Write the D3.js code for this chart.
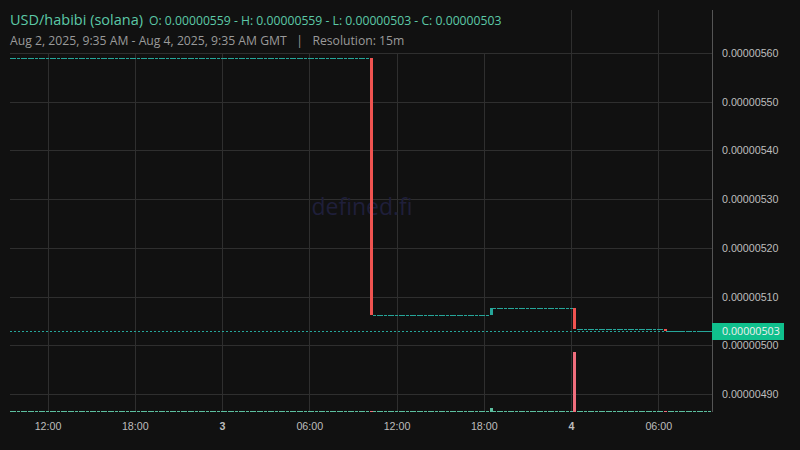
<!DOCTYPE html>
<html>
<head>
<meta charset="utf-8">
<script src="https://cdn.jsdelivr.net/npm/d3@7"></script>
<style>
  html, body { margin: 0; padding: 0; background: #111111; }
  svg { display: block; font-family: "Open Sans", "Noto Sans", sans-serif; }
</style>
</head>
<body>
<div id="chart"></div>
<script>
// price axis ticks and time ticks
var priceTicks = [0.0000049, 0.000005, 0.0000051, 0.0000052, 0.0000053, 0.0000054, 0.0000055, 0.0000056];
var timeTicks = ["2025-08-02T12:00Z", "2025-08-02T18:00Z", "2025-08-03T00:00Z", "2025-08-03T06:00Z",
                 "2025-08-03T12:00Z", "2025-08-03T18:00Z", "2025-08-04T00:00Z", "2025-08-04T06:00Z"];
var timeTickLabels = ["12:00", "18:00", "3", "06:00", "12:00", "18:00", "4", "06:00"];
var dayTicks = ["3", "4"];

// stretches of 15m bars with no price change: first bar, last bar, price, volume
var flatRuns = [
  ["2025-08-02T09:30Z", "2025-08-03T10:00Z", 0.00000559, 1],
  ["2025-08-03T10:30Z", "2025-08-03T18:15Z", 0.000005063, 1],
  ["2025-08-03T18:45Z", "2025-08-04T00:00Z", 0.000005076, 1],
  ["2025-08-04T00:30Z", "2025-08-04T06:15Z", 0.000005033, 1],
  ["2025-08-04T06:45Z", "2025-08-04T09:30Z", 0.00000503, 1]
];

// bars where the price moved
var tradeTimes = ["2025-08-03T10:15Z", "2025-08-03T18:30Z", "2025-08-04T00:15Z", "2025-08-04T06:30Z"];
var tradeOpen = [0.00000559, 0.000005063, 0.000005076, 0.000005033];
var tradeClose = [0.000005063, 0.000005076, 0.000005033, 0.00000503];
var tradeVolume = [1, 4, 60, 1];

var lastPrice = 0.00000503;

var W = 800, H = 450;
var plot = { left: 10, right: 712, top: 10, bottom: 412 };

var upColor = "#26a69a", downColor = "#ef5350";
var upVol = "#5cbf9f", downVol = "#f06e7d";

// build the bar list
var bars = [];
flatRuns.forEach(function (r) {
  var t0 = new Date(r[0]).getTime(), t1 = new Date(r[1]).getTime();
  for (var t = t0; t <= t1; t += 15 * 60 * 1000) {
    bars.push({ time: new Date(t), open: r[2], high: r[2], low: r[2], close: r[2], volume: r[3] });
  }
});
tradeTimes.forEach(function (t, i) {
  bars.push({
    time: new Date(t), open: tradeOpen[i], close: tradeClose[i],
    high: Math.max(tradeOpen[i], tradeClose[i]), low: Math.min(tradeOpen[i], tradeClose[i]),
    volume: tradeVolume[i]
  });
});
bars.sort(function (a, b) { return a.time - b.time; });

var svg = d3.select("#chart").append("svg")
  .attr("width", W).attr("height", H);

svg.append("rect").attr("width", W).attr("height", H).attr("fill", "#111111");

var x = d3.scaleUtc()
  .domain([new Date("2025-08-03T00:00Z"), new Date("2025-08-04T00:00Z")])
  .range([222, 571]);

var y = d3.scaleLinear()
  .domain([0.0000049, 0.0000056])
  .range([394, 53]);

var vol = d3.scaleLinear()
  .domain([0, d3.max(bars, function (d) { return d.volume; })])
  .range([plot.bottom, plot.bottom - 60]);

// grid
var grid = svg.append("g").attr("shape-rendering", "crispEdges");
grid.selectAll(".hgrid")
  .data(priceTicks)
  .enter().append("line")
  .attr("x1", plot.left).attr("x2", plot.right)
  .attr("y1", function (d) { return Math.round(y(d)) + 0.5; })
  .attr("y2", function (d) { return Math.round(y(d)) + 0.5; })
  .attr("stroke", "#2f2f2f");
grid.selectAll(".vgrid")
  .data(timeTicks)
  .enter().append("line")
  .attr("x1", function (d) { return Math.round(x(new Date(d))) + 0.5; })
  .attr("x2", function (d) { return Math.round(x(new Date(d))) + 0.5; })
  .attr("y1", plot.top).attr("y2", plot.bottom)
  .attr("stroke", "#2f2f2f");

// watermark
svg.append("text")
  .attr("x", 362).attr("y", 215)
  .attr("text-anchor", "middle")
  .attr("font-size", 23)
  .attr("fill", "#1f1f3a")
  .text("defined.fi");

svg.append("clipPath").attr("id", "clip")
  .append("rect")
  .attr("x", plot.left).attr("y", plot.top)
  .attr("width", plot.right - plot.left).attr("height", plot.bottom - plot.top);

var marks = svg.append("g").attr("clip-path", "url(#clip)").attr("shape-rendering", "crispEdges");

// volume bars
marks.append("g").selectAll("rect")
  .data(bars)
  .enter().append("rect")
  .attr("x", function (d) { return Math.round(x(d.time) - 1.5); })
  .attr("width", 3)
  .attr("y", function (d) { return Math.min(Math.round(vol(d.volume)), plot.bottom - 1); })
  .attr("height", function (d) { return Math.max(1, plot.bottom - Math.round(vol(d.volume))); })
  .attr("fill", function (d) { return d.close < d.open ? downVol : upVol; });

// last price line
marks.append("line")
  .attr("x1", plot.left).attr("x2", plot.right)
  .attr("y1", Math.round(y(lastPrice)) + 0.5).attr("y2", Math.round(y(lastPrice)) + 0.5)
  .attr("stroke", upColor)
  .attr("stroke-dasharray", "2,2");

// candles
marks.append("g").selectAll("rect")
  .data(bars)
  .enter().append("rect")
  .attr("x", function (d) { return Math.round(x(d.time) - 1.5); })
  .attr("width", 3)
  .attr("y", function (d) { return Math.round(y(Math.max(d.open, d.close))); })
  .attr("height", function (d) {
    return Math.max(1, Math.round(y(Math.min(d.open, d.close))) - Math.round(y(Math.max(d.open, d.close))));
  })
  .attr("fill", function (d) { return d.close < d.open ? downColor : upColor; });

// price axis
var yAxis = svg.append("g")
  .attr("transform", "translate(" + plot.right + ",0)")
  .call(d3.axisRight(y).tickValues(priceTicks).tickSize(0).tickPadding(10)
    .tickFormat(function (d) { return d.toFixed(8); }));
yAxis.select(".domain").remove();
yAxis.selectAll("text").attr("font-size", 10.7).attr("fill", "#bdbdbd").attr("font-family", null);

svg.append("line")
  .attr("x1", plot.right + 0.5).attr("x2", plot.right + 0.5)
  .attr("y1", plot.top).attr("y2", plot.bottom)
  .attr("stroke", "#555555")
  .attr("shape-rendering", "crispEdges");

// last price label
svg.append("rect")
  .attr("x", plot.right).attr("y", Math.round(y(lastPrice)) - 8)
  .attr("width", 72).attr("height", 17)
  .attr("fill", "#10c08d");
svg.append("text")
  .attr("x", plot.right + 10).attr("y", y(lastPrice) + 4)
  .attr("font-size", 10.7).attr("fill", "#f0f0f0")
  .text(lastPrice.toFixed(8));

// time axis
var xAxis = svg.append("g")
  .attr("transform", "translate(0," + plot.bottom + ")")
  .call(d3.axisBottom(x).tickValues(timeTicks.map(function (d) { return new Date(d); }))
    .tickSize(0).tickPadding(10)
    .tickFormat(function (d, i) { return timeTickLabels[i]; }));
xAxis.select(".domain").remove();
xAxis.selectAll("text")
  .attr("font-size", 10.7).attr("fill", "#bdbdbd").attr("font-family", null)
  .attr("font-weight", function (d, i) { return dayTicks.indexOf(timeTickLabels[i]) >= 0 ? "bold" : null; });

// legend
svg.append("rect").attr("x", 0).attr("y", 0).attr("width", 508).attr("height", 53).attr("fill", "#111111");
var legend = svg.append("text").attr("x", 10).attr("y", 25).attr("fill", "#5cc9a7");
legend.append("tspan").attr("font-size", 14.5).text("USD/habibi (solana)");
legend.append("tspan").attr("font-size", 12.2).attr("dx", 6)
  .text("O: 0.00000559 - H: 0.00000559 - L: 0.00000503 - C: 0.00000503");
svg.append("text").attr("x", 10).attr("y", 45).attr("font-size", 12.2).attr("fill", "#9a9a9a")
  .attr("xml:space", "preserve")
  .text("Aug 2, 2025, 9:35 AM - Aug 4, 2025, 9:35 AM GMT   |   Resolution: 15m");
</script>
</body>
</html>
